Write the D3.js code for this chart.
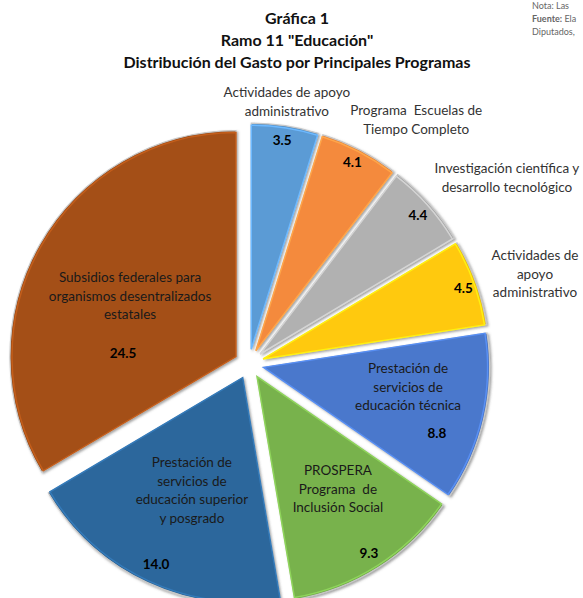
<!DOCTYPE html>
<html>
<head>
<meta charset="utf-8">
<script src="https://cdn.jsdelivr.net/npm/d3@7"></script>
<style>
  body { margin: 0; background: #fff; }
  svg text { font-family: Lato, "Open Sans", sans-serif; white-space: pre; }
</style>
</head>
<body>
<script>
// datos de la grafica
var categories = [
  "Actividades de apoyo\nadministrativo",
  "Programa  Escuelas de\nTiempo Completo",
  "Investigación científica y\ndesarrollo tecnológico",
  "Actividades de\napoyo\nadministrativo",
  "Prestación de\nservicios de\neducación técnica",
  "PROSPERA\nPrograma  de\nInclusión Social",
  "Prestación de\nservicios de\neducación superior\ny posgrado",
  "Subsidios federales para\norganismos desentralizados\nestatales"
];
var values = [3.5, 4.1, 4.4, 4.5, 8.8, 9.3, 14.0, 24.5];
var colors = ["#5b9bd5", "#f48a3d", "#b1b1b1", "#ffc90e", "#4a78cc", "#78b24c", "#2c679c", "#a44f17"];
var titleLines = ["Gráfica 1", "Ramo 11 \"Educación\"", "Distribución del Gasto por Principales Programas"];
var noteLines = ["Nota: Las", "Fuente: Ela", "Diputados,"];

// donde va cada etiqueta: [angulo en grados, fraccion del radio]
var valuePos = [[8.4, 0.935], [27.2, 0.935], [48.6, 0.93], [70.5, 0.94], [110.7, 0.82], [147.6, 0.924], [204.9, 0.91], [271.8, 0.50]];
var textPos = [[8.2, 1.105], [34.8, 1.243], [54.5, 1.341], [72.7, 1.26], [97.7, 0.645], [144.2, 0.612], [204.3, 0.546], [299.8, 0.54]];

var width = 583, height = 598;
var cx = 249, cy = 364, radius = 226, explode = 15;

var svg = d3.select("body").append("svg")
    .attr("width", width)
    .attr("height", height);

var defs = svg.append("defs");
var f = defs.append("filter").attr("id", "sombra")
    .attr("x", "-10%").attr("y", "-10%").attr("width", "120%").attr("height", "120%");
f.append("feDropShadow")
    .attr("dx", 1.5).attr("dy", 1.5)
    .attr("stdDeviation", 1.2)
    .attr("flood-color", "#555")
    .attr("flood-opacity", 0.55);

var pie = d3.pie().sort(null).value(function (d) { return d; });
var arcs = pie(values);
var arc = d3.arc().innerRadius(0).outerRadius(radius);
var bevel = d3.arc().innerRadius(0).outerRadius(radius - 2);

function rad(a) { return a * Math.PI / 180; }
function offset(d) {
    var m = (d.startAngle + d.endAngle) / 2;
    return [explode * Math.sin(m), -explode * Math.cos(m)];
}
function polar(d, p) {
    var o = offset(d), a = rad(p[0]), r = p[1] * radius;
    return [cx + o[0] + r * Math.sin(a), cy + o[1] - r * Math.cos(a)];
}

var g = svg.append("g").attr("transform", "translate(" + cx + "," + cy + ")");

var slices = g.selectAll("g.slice")
    .data(arcs)
    .enter().append("g")
    .attr("class", "slice")
    .attr("transform", function (d) { return "translate(" + offset(d) + ")"; });

slices.append("path")
    .attr("d", arc)
    .attr("fill", function (d, i) { return d3.color(colors[i]).darker(0.25); })
    .attr("stroke", "#c8c8c8")
    .attr("stroke-width", 1.2)
    .attr("filter", "url(#sombra)");

slices.append("path")
    .attr("d", bevel)
    .attr("fill", function (d, i) { return colors[i]; })
    .attr("stroke", function (d, i) { return d3.color(colors[i]).brighter(0.5); })
    .attr("stroke-width", 1.5);

// titulo
svg.append("g").selectAll("text")
    .data(titleLines)
    .enter().append("text")
    .attr("x", 297)
    .attr("y", function (d, i) { return 24 + i * 22; })
    .attr("text-anchor", "middle")
    .attr("font-size", "16px")
    .attr("font-weight", "bold")
    .attr("fill", "#111")
    .text(function (d) { return d; });

// nota arriba a la derecha
var nota = svg.append("g").selectAll("text")
    .data(noteLines)
    .enter().append("text")
    .attr("x", 532)
    .attr("y", function (d, i) { return 9 + i * 13; })
    .attr("font-size", "9px")
    .attr("fill", "#666");
nota.each(function (d, i) {
    var t = d3.select(this);
    if (i === 1) {
        t.append("tspan").attr("font-weight", "bold").text("Fuente:");
        t.append("tspan").text(" Ela");
    } else {
        t.text(d);
    }
});

// nombres de los programas
var lh = 18.5;
arcs.forEach(function (d, i) {
    var lines = categories[i].split("\n");
    var p = polar(d, textPos[i]);
    var y0 = p[1] - (lines.length - 1) * lh / 2;
    svg.append("text")
        .attr("text-anchor", "middle")
        .attr("font-size", "13.5px")
        .attr("fill", i < 4 ? "#333" : "#1a1a1a")
        .selectAll("tspan")
        .data(lines)
        .enter().append("tspan")
        .attr("x", p[0])
        .attr("y", function (l, j) { return y0 + j * lh; })
        .attr("dy", "0.35em")
        .text(function (l) { return l; });

    var v = polar(d, valuePos[i]);
    svg.append("text")
        .attr("x", v[0])
        .attr("y", v[1])
        .attr("dy", "0.35em")
        .attr("text-anchor", "middle")
        .attr("font-size", "13.5px")
        .attr("font-weight", "bold")
        .attr("fill", "#000")
        .text(d3.format(".1f")(values[i]));
});
</script>
</body>
</html>
